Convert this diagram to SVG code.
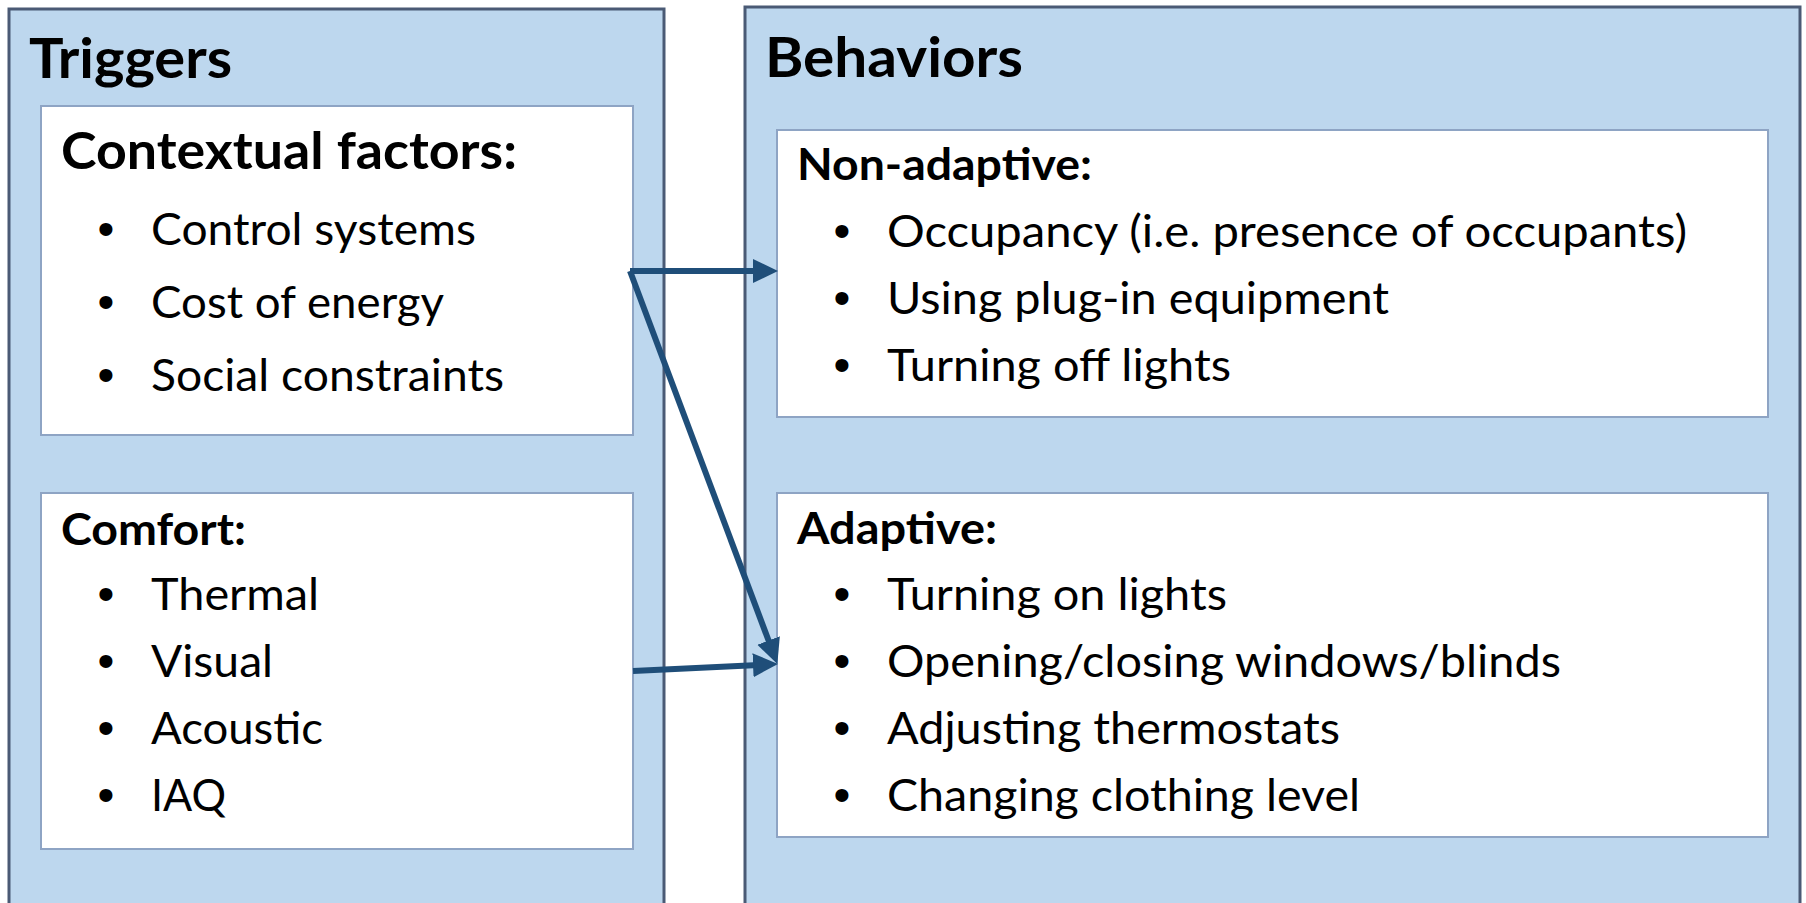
<svg xmlns="http://www.w3.org/2000/svg" width="1806" height="903" viewBox="0 0 1806 903">
  <style>
    .panel { fill: #BDD7EE; stroke: #4A5A75; stroke-width: 3; }
    .box { fill: #FFFFFF; stroke: #8EA4C4; stroke-width: 2; }
    .title { font-family: Lato, "Liberation Sans", sans-serif; font-weight: 700; font-size: 55px; fill: #000; }
    .head { font-family: Lato, "Liberation Sans", sans-serif; font-weight: 700; font-size: 44px; fill: #000; }
    .head-lg { font-family: Lato, "Liberation Sans", sans-serif; font-weight: 700; font-size: 51px; fill: #000; }
    .item { font-family: Lato, "Liberation Sans", sans-serif; font-size: 44px; fill: #000; }
    .bullet { font-family: "Liberation Sans", sans-serif; font-size: 48px; fill: #000; text-anchor: middle; }
    .link { fill: none; stroke: #1F4E79; stroke-width: 6; marker-end: url(#arrow); }
  </style>
  <defs>
    <marker id="arrow" markerUnits="userSpaceOnUse" markerWidth="26" markerHeight="26" refX="12" refY="12" orient="auto">
      <path d="M0,0 L25,12 L0,24 Z" fill="#1F4E79"/>
    </marker>
  </defs>

  <rect width="1806" height="903" fill="#FFFFFF"/>

  <!-- Triggers panel -->
  <g id="triggers">
    <rect class="panel" x="9" y="9" width="655" height="1000"/>
    <text class="title" x="29" y="78" textLength="203" lengthAdjust="spacingAndGlyphs">Triggers</text>
  </g>

  <!-- Behaviors panel -->
  <g id="behaviors">
    <rect class="panel" x="745" y="7" width="1055" height="1000"/>
    <text class="title" x="765" y="77" textLength="258" lengthAdjust="spacingAndGlyphs">Behaviors</text>
  </g>

  <!-- Contextual factors -->
  <g id="contextual">
    <rect class="box" x="41" y="106" width="592" height="329"/>
    <text class="head-lg" x="61" y="169" textLength="456" lengthAdjust="spacingAndGlyphs">Contextual factors:</text>
    <text class="bullet" x="106" y="245">•</text>
    <text class="item" x="151" y="245" textLength="325" lengthAdjust="spacingAndGlyphs">Control systems</text>
    <text class="bullet" x="106" y="318">•</text>
    <text class="item" x="151" y="318" textLength="293" lengthAdjust="spacingAndGlyphs">Cost of energy</text>
    <text class="bullet" x="106" y="391">•</text>
    <text class="item" x="151" y="391" textLength="353" lengthAdjust="spacingAndGlyphs">Social constraints</text>
  </g>

  <!-- Comfort -->
  <g id="comfort">
    <rect class="box" x="41" y="493" width="592" height="356"/>
    <text class="head" x="61" y="545" textLength="185" lengthAdjust="spacingAndGlyphs">Comfort:</text>
    <text class="bullet" x="106" y="610">•</text>
    <text class="item" x="151" y="610" textLength="168" lengthAdjust="spacingAndGlyphs">Thermal</text>
    <text class="bullet" x="106" y="677">•</text>
    <text class="item" x="151" y="677" textLength="122" lengthAdjust="spacingAndGlyphs">Visual</text>
    <text class="bullet" x="106" y="744">•</text>
    <text class="item" x="151" y="744" textLength="172" lengthAdjust="spacingAndGlyphs">Acoustic</text>
    <text class="bullet" x="106" y="811">•</text>
    <text class="item" x="151" y="811" textLength="75" lengthAdjust="spacingAndGlyphs">IAQ</text>
  </g>

  <!-- Non-adaptive behaviors -->
  <g id="non-adaptive">
    <rect class="box" x="777" y="130" width="991" height="287"/>
    <text class="head" x="797" y="180" textLength="295" lengthAdjust="spacingAndGlyphs">Non-adaptive:</text>
    <text class="bullet" x="842" y="247">•</text>
    <text class="item" x="887" y="247" textLength="800" lengthAdjust="spacingAndGlyphs">Occupancy (i.e. presence of occupants)</text>
    <text class="bullet" x="842" y="314">•</text>
    <text class="item" x="887" y="314" textLength="502" lengthAdjust="spacingAndGlyphs">Using plug-in equipment</text>
    <text class="bullet" x="842" y="381">•</text>
    <text class="item" x="887" y="381" textLength="344" lengthAdjust="spacingAndGlyphs">Turning off lights</text>
  </g>

  <!-- Adaptive behaviors -->
  <g id="adaptive">
    <rect class="box" x="777" y="493" width="991" height="344"/>
    <text class="head" x="797" y="544" textLength="200" lengthAdjust="spacingAndGlyphs">Adaptive:</text>
    <text class="bullet" x="842" y="610">•</text>
    <text class="item" x="887" y="610" textLength="340" lengthAdjust="spacingAndGlyphs">Turning on lights</text>
    <text class="bullet" x="842" y="677">•</text>
    <text class="item" x="887" y="677" textLength="674" lengthAdjust="spacingAndGlyphs">Opening/closing windows/blinds</text>
    <text class="bullet" x="842" y="744">•</text>
    <text class="item" x="887" y="744" textLength="453" lengthAdjust="spacingAndGlyphs">Adjusting thermostats</text>
    <text class="bullet" x="842" y="811">•</text>
    <text class="item" x="887" y="811" textLength="473" lengthAdjust="spacingAndGlyphs">Changing clothing level</text>
  </g>

  <!-- Connectors -->
  <g id="connectors">
    <line class="link" x1="630" y1="271" x2="765" y2="271"/>
    <line class="link" x1="630" y1="271" x2="772.8" y2="651.8"/>
    <line class="link" x1="633" y1="671" x2="765" y2="664.6"/>
  </g>
</svg>
